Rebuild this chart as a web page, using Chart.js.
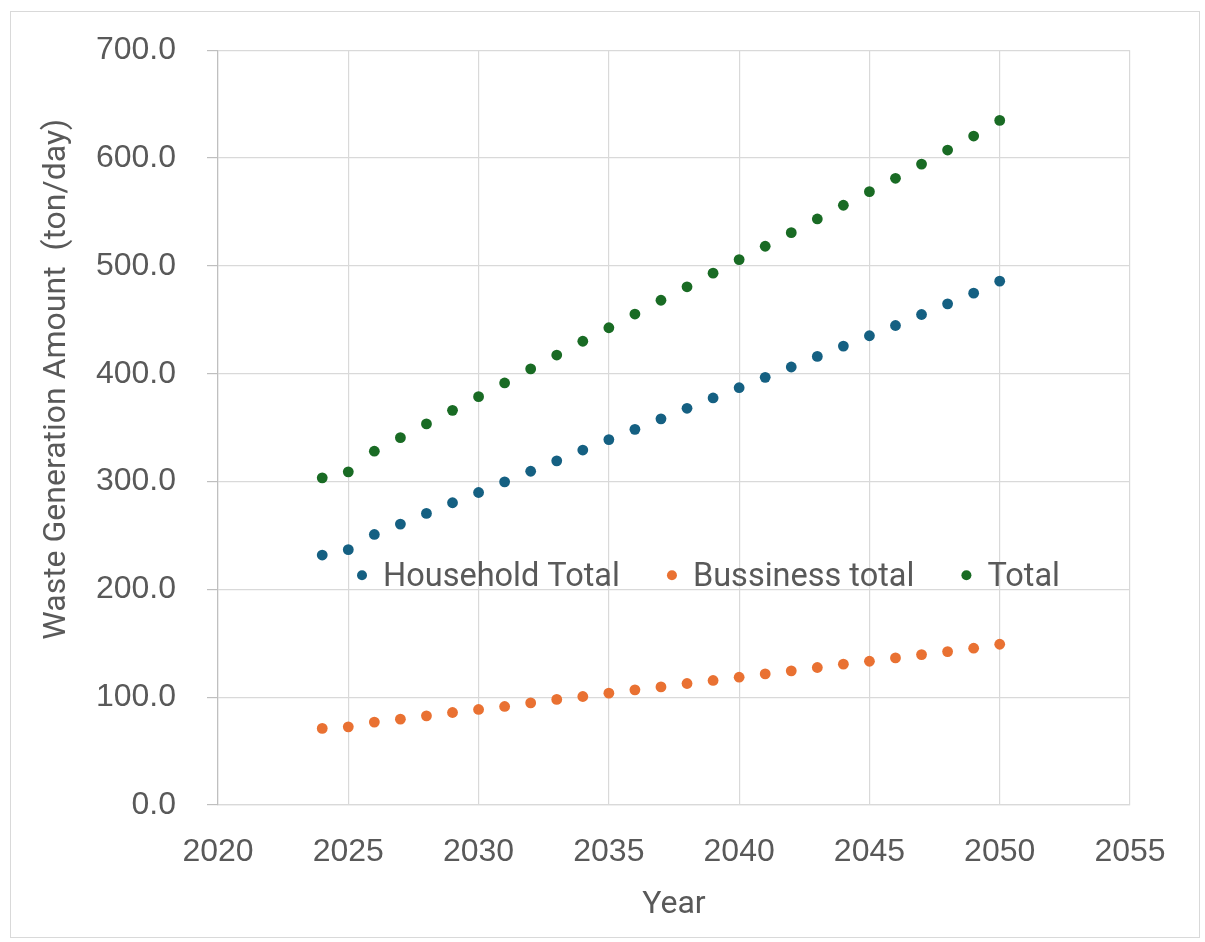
<!DOCTYPE html>
<html>
<head>
<meta charset="utf-8">
<script src="https://cdn.jsdelivr.net/npm/chart.js@4.4.1/dist/chart.umd.min.js"></script>
<style>
html,body{margin:0;padding:0;background:#fff;}
#wrap{width:1205px;height:942px;position:relative;}
canvas{display:block;}
</style>
</head>
<body>
<div id="wrap"><canvas id="c" width="1205" height="942"></canvas></div>
<script>
const years = [2024,2025,2026,2027,2028,2029,2030,2031,2032,2033,2034,2035,2036,2037,2038,2039,2040,2041,2042,2043,2044,2045,2046,2047,2048,2049,2050];
const householdTotal = [231.8,236.8,250.9,260.5,270.4,280.3,289.8,299.7,309.5,319.2,329.2,338.9,348.4,358.1,367.9,377.5,387.0,396.6,406.2,416.0,425.6,435.2,444.7,454.9,464.8,474.7,485.8];
const businessTotal = [71.0,72.5,76.9,79.6,82.7,85.8,88.6,91.4,94.7,97.9,100.6,103.7,106.8,109.5,112.7,115.5,118.5,121.6,124.4,127.5,130.6,133.3,136.4,139.5,142.3,145.4,149.1];
const grandTotal = [303.4,309.0,328.1,340.7,353.4,366.0,378.7,391.4,404.4,417.3,430.1,442.6,455.3,468.1,480.6,493.2,505.8,518.2,530.8,543.5,556.2,568.8,581.2,594.4,607.4,620.4,634.9];
const seriesNames = ['Household Total','Bussiness total','Total'];
const seriesColors = ['#156082','#E97132','#196B24'];
const xTickLabels = ['2020','2025','2030','2035','2040','2045','2050','2055'];
const yTickLabels = ['0.0','100.0','200.0','300.0','400.0','500.0','600.0','700.0'];
const xAxisTitle = 'Year';
const yAxisTitle = 'Waste Generation Amount  (ton/day)';

const toPoints = (vals) => vals.map((v, i) => ({x: years[i], y: v}));

const TEXT = '#595959';
const TICK_FONT = {family: "'Liberation Sans', Arial, sans-serif", size: 32};
const LABEL_FONT_FAMILY = "Roboto, 'Noto Sans', sans-serif";

const framePlugin = {
  id: 'frame',
  beforeDraw(chart) {
    const ctx = chart.ctx;
    ctx.save();
    ctx.fillStyle = '#ffffff';
    ctx.fillRect(0, 0, chart.width, chart.height);
    ctx.strokeStyle = '#D9D9D9';
    ctx.lineWidth = 1;
    ctx.strokeRect(10.5, 11.5, chart.width - 16, chart.height - 16);
    ctx.restore();
  }
};

const yTitlePlugin = {
  id: 'yTitle',
  afterDraw(chart) {
    const ctx = chart.ctx;
    const a = chart.chartArea;
    ctx.save();
    ctx.translate(a.left - 161, a.top + 329);
    ctx.rotate(-Math.PI / 2);
    ctx.font = '32px ' + LABEL_FONT_FAMILY;
    ctx.fillStyle = TEXT;
    ctx.textAlign = 'center';
    ctx.textBaseline = 'middle';
    ctx.fillText(yAxisTitle, 0, 0);
    ctx.restore();
  }
};

const innerLegendPlugin = {
  id: 'innerLegend',
  afterDatasetsDraw(chart) {
    const ctx = chart.ctx;
    const a = chart.chartArea;
    ctx.save();
    ctx.font = '32.5px ' + LABEL_FONT_FAMILY;
    ctx.textBaseline = 'alphabetic';
    ctx.textAlign = 'left';
    let x = a.left + 144;
    const cy = a.top + 525;
    chart.data.datasets.forEach((ds) => {
      ctx.fillStyle = ds.backgroundColor;
      ctx.beginPath();
      ctx.arc(x, cy, 5, 0, Math.PI * 2);
      ctx.fill();
      const tx = x + 21;
      ctx.fillStyle = TEXT;
      ctx.fillText(ds.label, tx, cy + 11);
      x = tx + ctx.measureText(ds.label).width + 52;
    });
    ctx.restore();
  }
};

new Chart(document.getElementById('c'), {
  type: 'scatter',
  data: {
    datasets: [
      {label: seriesNames[0], data: toPoints(householdTotal), backgroundColor: seriesColors[0], borderColor: seriesColors[0]},
      {label: seriesNames[1], data: toPoints(businessTotal), backgroundColor: seriesColors[1], borderColor: seriesColors[1]},
      {label: seriesNames[2], data: toPoints(grandTotal), backgroundColor: seriesColors[2], borderColor: seriesColors[2]}
    ]
  },
  options: {
    responsive: false,
    animation: false,
    devicePixelRatio: 1,
    layout: {padding: {top: 48, right: 75, left: 0, bottom: 0}},
    elements: {point: {radius: 5.4, borderWidth: 0, hoverRadius: 5.4}},
    plugins: {legend: {display: false}, tooltip: {enabled: false}},
    scales: {
      x: {
        type: 'linear',
        min: 2020, max: 2055,
        afterFit(s) { s.height = 137; },
        ticks: {
          stepSize: 5,
          color: TEXT,
          font: TICK_FONT,
          padding: 28,
          maxRotation: 0,
          callback: (v, i) => xTickLabels[i]
        },
        grid: {color: '#D9D9D9', lineWidth: 1.2, drawTicks: false},
        border: {color: '#D9D9D9', width: 1.2},
        title: {display: true, text: xAxisTitle, color: TEXT, font: {family: LABEL_FONT_FAMILY, size: 32}, padding: {top: 0, bottom: 18}}
      },
      y: {
        min: 0, max: 700,
        afterFit(s) { s.width = 218; },
        ticks: {
          stepSize: 100,
          color: TEXT,
          font: TICK_FONT,
          padding: 31,
          callback: (v, i) => yTickLabels[i]
        },
        grid: {color: '#D9D9D9', lineWidth: 1.2, tickLength: 11, tickColor: '#BFBFBF'},
        border: {color: '#BFBFBF', width: 1.2}
      }
    }
  },
  plugins: [framePlugin, yTitlePlugin, innerLegendPlugin]
});
</script>
</body>
</html>
